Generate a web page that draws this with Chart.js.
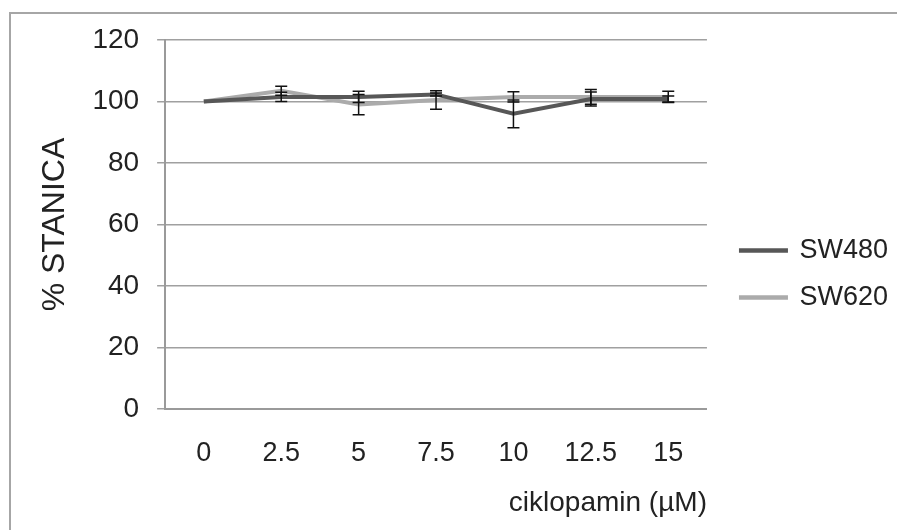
<!DOCTYPE html>
<html>
<head>
<meta charset="utf-8">
<script src="https://cdn.jsdelivr.net/npm/chart.js@4"></script>
<style>
  html, body { margin: 0; padding: 0; background: #fff; overflow: hidden; }
  #wrap { position: relative; width: 897px; height: 530px; }
  #frame { position: absolute; left: 9px; top: 12px; width: 1000px; height: 1000px;
           border: 2px solid #a6a6a6; box-sizing: border-box; pointer-events: none; }
  canvas { position: absolute; left: 0; top: 0; }
</style>
</head>
<body>
<div id="wrap">
  <canvas id="chart" width="897" height="530"></canvas>
  <div id="frame"></div>
</div>
<script>
// Podaci očitani sa slike
const categories = ["0", "2.5", "5", "7.5", "10", "12.5", "15"];
const sw480 = [100, 101.5, 101.5, 102.3, 96, 100.8, 100.8];
const sw480Err = [0, 1.5, 1.8, 0.5, 4.5, 2.3, 1.0];
const sw620 = [100, 103.5, 99, 100.5, 101.5, 101.5, 101.5];
const sw620Err = [0, 1.5, 3.3, 3, 1.7, 2.4, 1.8];
const yTicks = [0, 20, 40, 60, 80, 100, 120];

const errors = [sw480Err, sw620Err];
const font = "'Liberation Sans', Arial, sans-serif";

// Crta error barove preko skale
const errorBars = {
  id: "errorBars",
  afterDatasetsDraw(chart) {
    const ctx = chart.ctx;
    const y = chart.scales.y;
    ctx.save();
    ctx.strokeStyle = "#111";
    ctx.lineWidth = 1.5;
    chart.data.datasets.forEach((ds, i) => {
      const meta = chart.getDatasetMeta(i);
      meta.data.forEach((pt, j) => {
        const e = errors[i][j];
        if (!e) return;
        const top = y.getPixelForValue(ds.data[j] + e);
        const bot = y.getPixelForValue(ds.data[j] - e);
        ctx.beginPath();
        ctx.moveTo(pt.x, top); ctx.lineTo(pt.x, bot);
        ctx.moveTo(pt.x - 6, top); ctx.lineTo(pt.x + 6, top);
        ctx.moveTo(pt.x - 6, bot); ctx.lineTo(pt.x + 6, bot);
        ctx.stroke();
      });
    });
    ctx.restore();
  }
};

// Malo pomakne legendu (desno i gore)
const legendNudge = {
  id: "legendNudge",
  afterLayout(chart) {
    const lg = chart.legend;
    if (!lg) return;
    lg.left += 14; lg.right += 14;
    lg.top -= 6; lg.bottom -= 6;
  }
};

new Chart(document.getElementById("chart"), {
  type: "line",
  data: {
    labels: categories,
    datasets: [
      { label: "SW480", data: sw480, borderColor: "#575757", backgroundColor: "#575757",
        borderWidth: 4, pointRadius: 0, tension: 0 },
      { label: "SW620", data: sw620, borderColor: "#ababab", backgroundColor: "#ababab",
        borderWidth: 4, pointRadius: 0, tension: 0 }
    ]
  },
  options: {
    responsive: false,
    animation: false,
    layout: { padding: { top: 40, left: 36, right: 13, bottom: 10 } },
    plugins: {
      tooltip: { enabled: false },
      legend: {
        position: "right",
        labels: {
          boxWidth: 45, boxHeight: 0.5, padding: 20, color: "#222",
          font: { family: font, size: 27 }
        }
      }
    },
    scales: {
      x: {
        offset: true,
        grid: { display: false, offset: true, drawTicks: true, tickLength: 7, color: "#9a9a9a" },
        border: { color: "#9a9a9a", width: 2 },
        ticks: { color: "#222", padding: 21, font: { family: font, size: 27 }, maxRotation: 0 },
        title: { display: true, text: "ciklopamin (µM)", align: "end", color: "#222",
                 padding: { top: -4, bottom: 0 }, font: { family: font, size: 28 } }
      },
      y: {
        min: 0, max: 120,
        afterBuildTicks(axis) { axis.ticks = yTicks.map(v => ({ value: v })); },
        grid: { color: "#a0a0a0", lineWidth: 1.5, tickLength: 8 },
        border: { color: "#9a9a9a", width: 2 },
        ticks: { color: "#222", padding: 18, font: { family: font, size: 28 } },
        title: { display: true, text: "% STANICA", color: "#222",
                 padding: { top: 0, bottom: 0 }, font: { family: font, size: 32 } }
      }
    }
  },
  plugins: [errorBars, legendNudge]
});
</script>
</body>
</html>
